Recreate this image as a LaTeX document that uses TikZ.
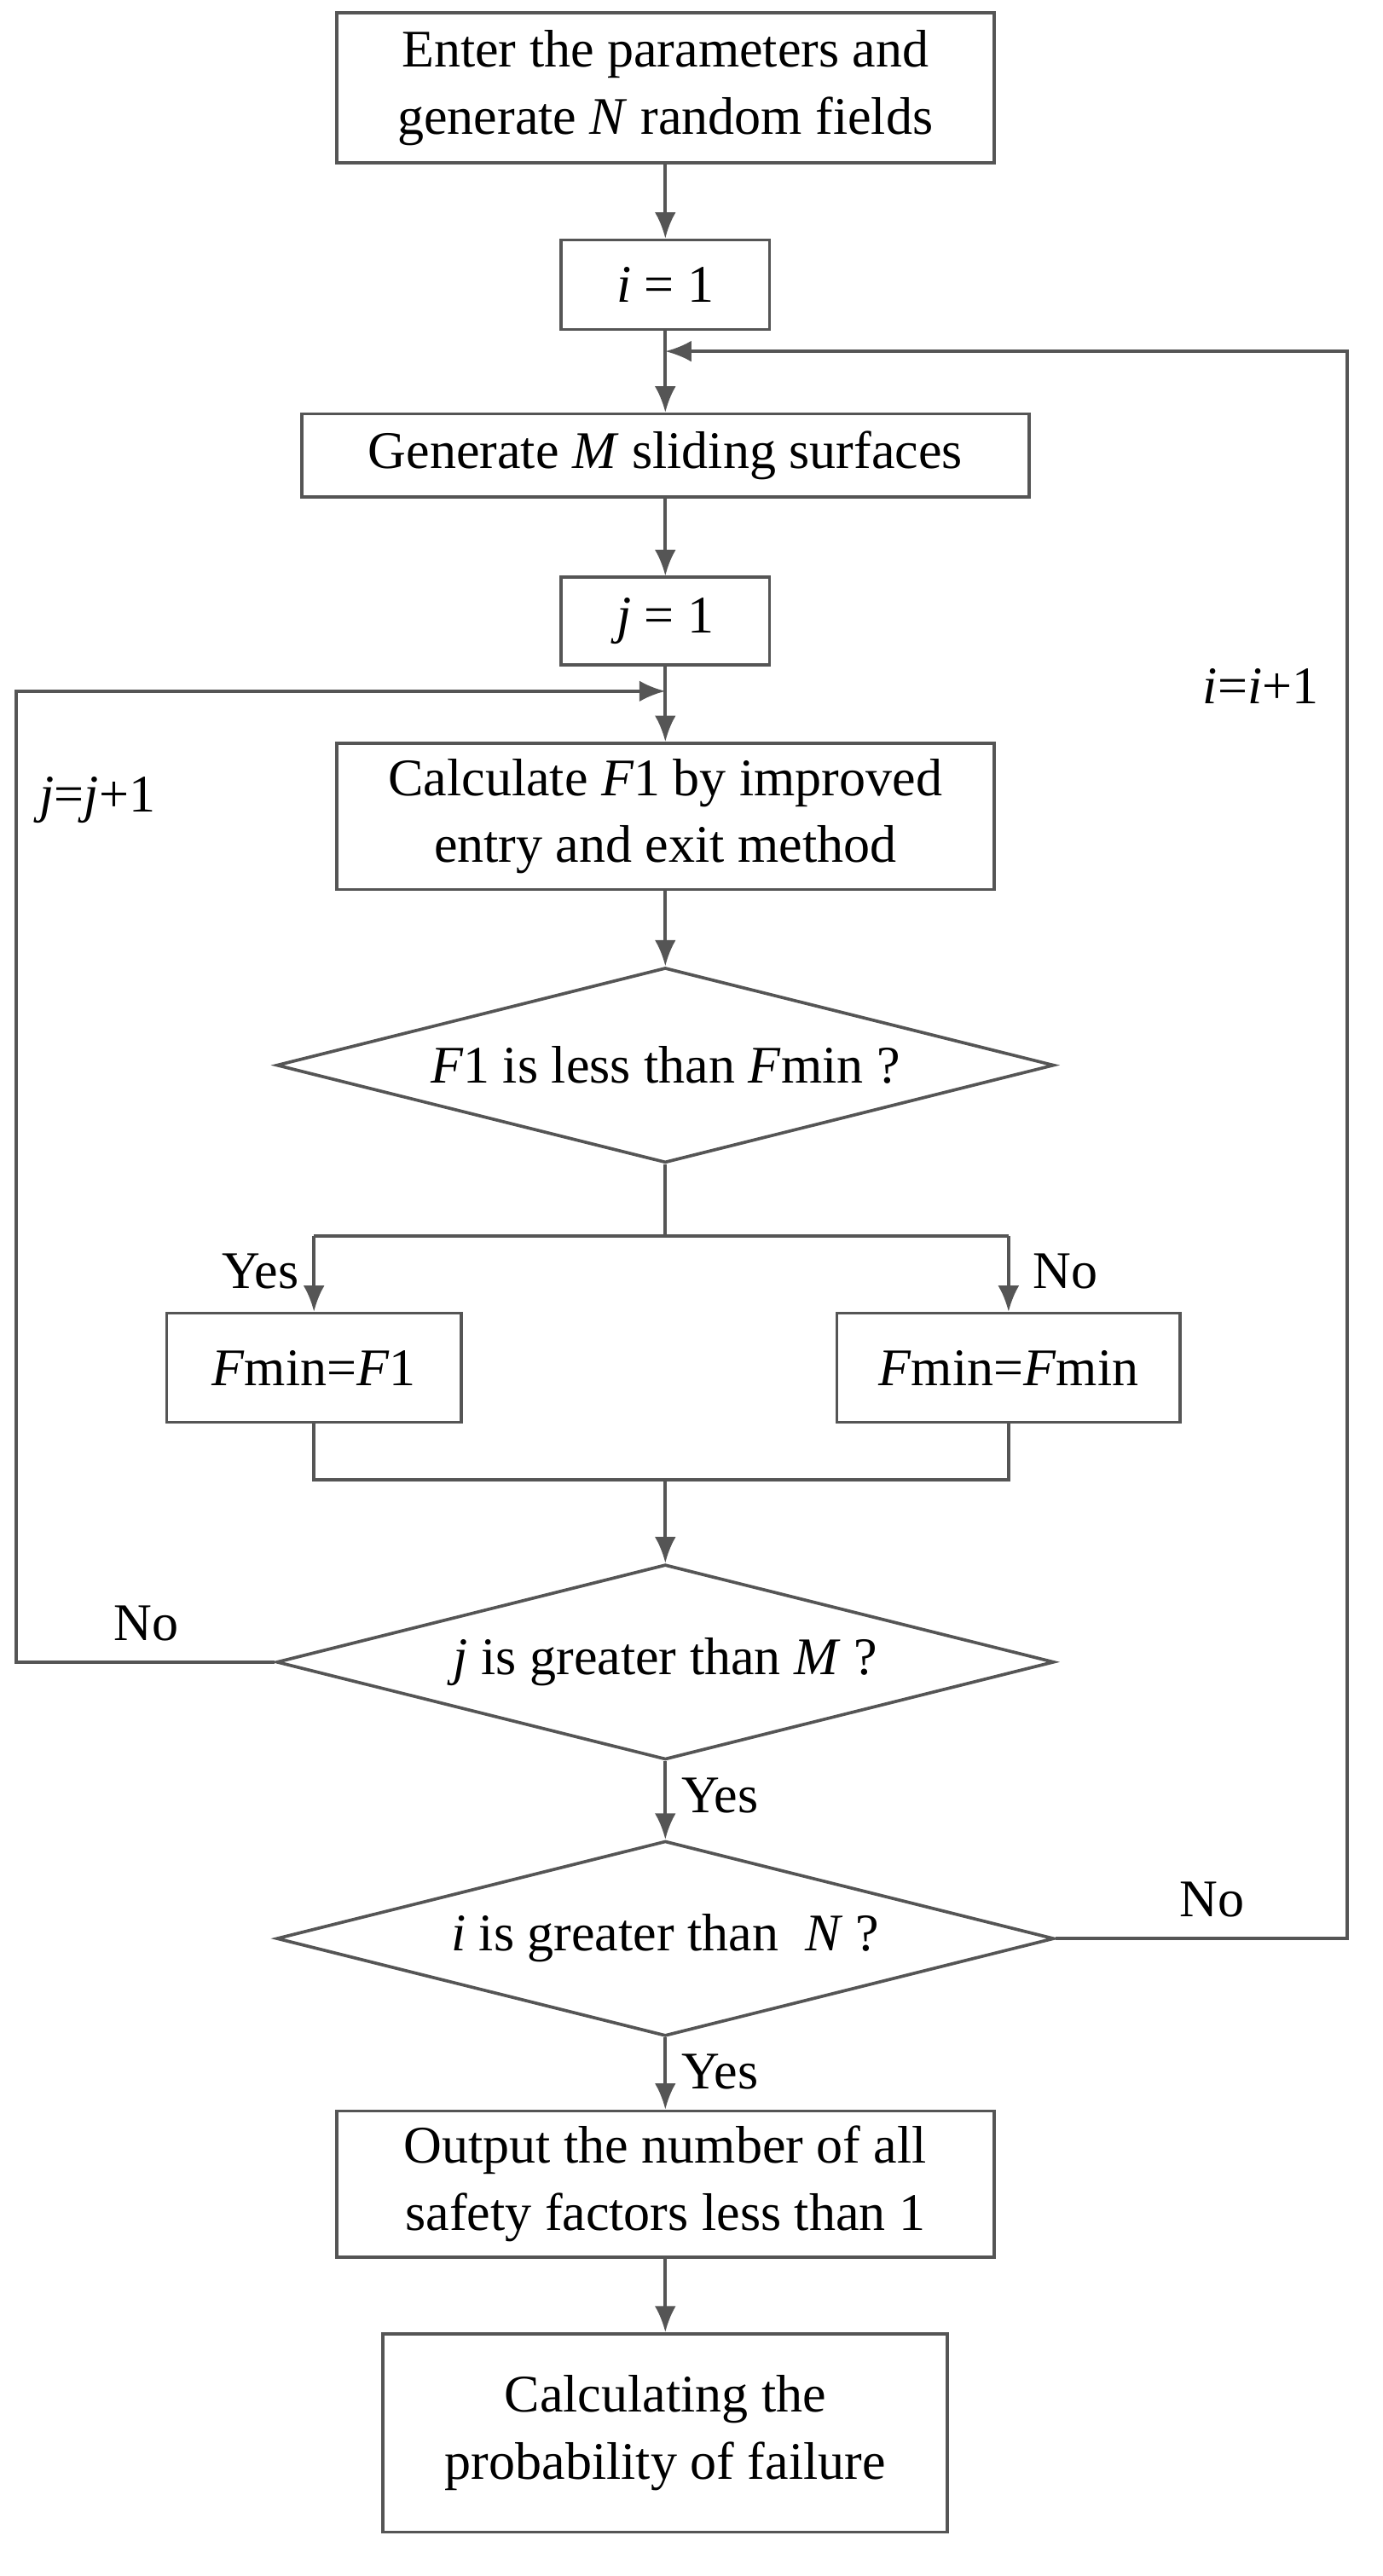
\documentclass[tikz,border=0pt]{standalone}
\usepackage{fontspec}
\setmainfont{Liberation Serif}
\usetikzlibrary{shapes.geometric,arrows.meta}
\definecolor{linegray}{HTML}{555555}
\begin{document}
\begin{tikzpicture}[
  font=\fontsize{18.5}{23.5}\selectfont,
  box/.style={draw=linegray, line width=1.1pt, rectangle, inner sep=0pt, align=center},
  cond/.style={draw=linegray, line width=1.1pt, diamond, aspect=4, inner sep=0pt,
    minimum width=9.56cm, minimum height=2.4cm},
  flow/.style={draw=linegray, line width=1.1pt, -{Latex[length=3.2mm,width=2.6mm]}},
  link/.style={draw=linegray, line width=1.1pt, -}]
\useasboundingbox (0,0) rectangle (17,-31.68);

\node[box, minimum width=8.08cm, minimum height=1.84cm] (enter) at (8.18,-1.08) {Enter the parameters and\\generate \textit{N} random fields};
\node[box, minimum width=2.56cm, minimum height=1.1cm] (iinit) at (8.18,-3.5) {\textit{i} = 1};
\node[box, minimum width=8.94cm, minimum height=1.02cm] (gen) at (8.18,-5.6) {Generate \textit{M} sliding surfaces};
\node[box, minimum width=2.56cm, minimum height=1.08cm] (jinit) at (8.18,-7.64) {\textit{j} = 1};
\node[box, minimum width=8.08cm, minimum height=1.8cm] (calc) at (8.18,-10.04) {Calculate \textit{F}1 by improved\\entry and exit method};
\node[cond] (less) at (8.18,-13.1) {\textit{F}1 is less than \textit{F}min ?};
\node[box, minimum width=3.62cm, minimum height=1.34cm] (fone) at (3.86,-16.82) {\textit{F}min=\textit{F}1};
\node[box, minimum width=4.22cm, minimum height=1.34cm] (fkeep) at (12.4,-16.82) {\textit{F}min=\textit{F}min};
\node[cond] (jgt) at (8.18,-20.44) {\textit{j} is greater than \textit{M} ?};
\node[cond] (igt) at (8.18,-23.84) {\textit{i} is greater than\ \ \textit{N} ?};
\node[box, minimum width=8.08cm, minimum height=1.8cm] (out) at (8.18,-26.86) {Output the number of all\\safety factors less than 1};
\node[box, minimum width=6.94cm, minimum height=2.44cm] (prob) at (8.18,-29.92) {Calculating the\\probability of failure};

\coordinate (split) at (8.18,-15.2);
\coordinate (splitl) at (3.86,-15.2);
\coordinate (splitr) at (12.4,-15.2);
\coordinate (merge) at (8.18,-18.2);
\coordinate (mergel) at (3.86,-18.2);
\coordinate (merger) at (12.4,-18.2);
\coordinate (jjoin) at (8.18,-8.5);
\coordinate (jcorner) at (0.2,-8.5);
\coordinate (jleft) at (0.2,-20.44);
\coordinate (ijoin) at (8.18,-4.32);
\coordinate (icorner) at (16.56,-4.32);
\coordinate (iright) at (16.56,-23.84);

\node at (1.8,-19.96) {No};
\node at (1.2,-9.84) {\textit{j}=\textit{j}+1};
\node at (14.9,-23.36) {No};
\node at (15.5,-8.44) {\textit{i}=\textit{i}+1};
\node at (3.2,-15.64) {Yes};
\node at (13.1,-15.64) {No};
\node at (8.85,-22.08) {Yes};
\node at (8.85,-25.48) {Yes};

\path[flow] (enter) -- (iinit);
\path[flow] (iinit) -- (gen);
\path[flow] (gen) -- (jinit);
\path[flow] (jinit) -- (calc);
\path[flow] (calc) -- (less);
\path[link] (less) -- (split);
\path[link] (splitl) -- (splitr);
\path[flow] (splitl) -- (fone);
\path[flow] (splitr) -- (fkeep);
\path[link] (fone) -- (mergel) -- (merger) -- (fkeep);
\path[flow] (merge) -- (jgt);
\path[flow] (jgt.west) -- (jleft) -- (jcorner) -- (jjoin);
\path[flow] (jgt) -- (igt);
\path[flow] (igt.east) -- (iright) -- (icorner) -- (ijoin);
\path[flow] (igt) -- (out);
\path[flow] (out) -- (prob);
\end{tikzpicture}
\end{document}
